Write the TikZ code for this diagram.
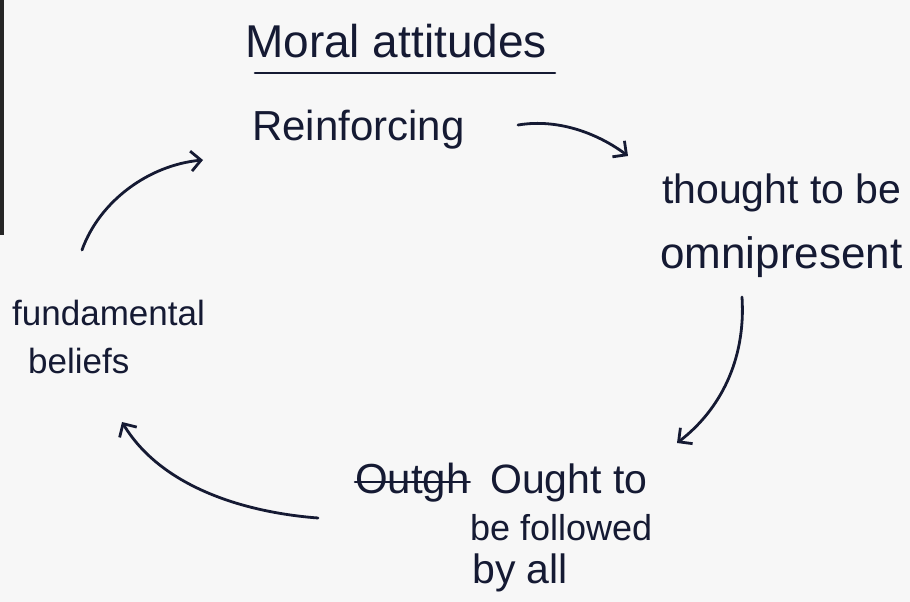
\documentclass[tikz,border=0pt]{standalone}
\usepackage{fontspec}
\setmainfont{Liberation Sans}
\usetikzlibrary{arrows.meta}
\definecolor{paper}{HTML}{F7F7F7}
\definecolor{ink}{HTML}{151A33}
\tikzset{
  lbl/.style={anchor=base west, inner sep=0pt, text=ink},
  flow/.style={draw=ink, line width=2.8pt, line cap=round,
    -{Straight Barb[length=10pt,width=20pt,line width=2.8pt]}},
  rule/.style={draw=ink, line width=2.6pt, line cap=round}
}
\begin{document}
\begin{tikzpicture}[x=1pt,y=-1pt]
\fill[paper] (0,0) rectangle (910,602);
\useasboundingbox (0,0) rectangle (910,602);
\fill[black!85] (0,0) rectangle (3.5,235);

\node[lbl, font=\fontsize{46}{50}\selectfont] (title) at (245,58) {Moral attitudes};
\coordinate (ulA) at (255,73);
\coordinate (ulB) at (555,73);
\draw[rule] (ulA) -- (ulB);

\node[lbl, font=\fontsize{42}{46}\selectfont] (reinf) at (252,140) {Reinforcing};
\node[lbl, font=\fontsize{41}{46}\selectfont] (thought) at (662,203) {thought to be};
\node[lbl, font=\fontsize{44}{48}\selectfont] (omni) at (660,268) {omnipresent};
\node[lbl, font=\fontsize{42}{46}\selectfont] (outgh) at (355,493) {Outgh};
\draw[rule] ([yshift=11pt]outgh.base west) -- ([yshift=11pt]outgh.base east);
\node[lbl, font=\fontsize{41}{46}\selectfont] (ought) at (490,493) {Ought to};
\node[lbl, font=\fontsize{36}{40}\selectfont] (follow) at (470,540) {be followed};
\node[lbl, font=\fontsize{41}{46}\selectfont] (byall) at (472,583) {by all};
\node[lbl, font=\fontsize{35}{40}\selectfont] (fund) at (12,325) {fundamental};
\node[lbl, font=\fontsize{35}{40}\selectfont] (belief) at (28,373) {beliefs};

\coordinate (a1s) at (518,125);
\coordinate (a1e) at (628,156);
\coordinate (a2s) at (742,297);
\coordinate (a2e) at (677,443);
\coordinate (a3s) at (318,518);
\coordinate (a3e) at (122,422);
\coordinate (a4s) at (82,250);
\coordinate (a4e) at (203,160);

\draw[flow] (a1s) .. controls (560,118) and (600,135) .. (a1e);
\draw[flow] (a2s) .. controls (746,360) and (720,410) .. (a2e);
\draw[flow] (a3s) .. controls (240,512) and (160,485) .. (a3e);
\draw[flow] (a4s) .. controls (100,200) and (150,165) .. (a4e);
\end{tikzpicture}
\end{document}
